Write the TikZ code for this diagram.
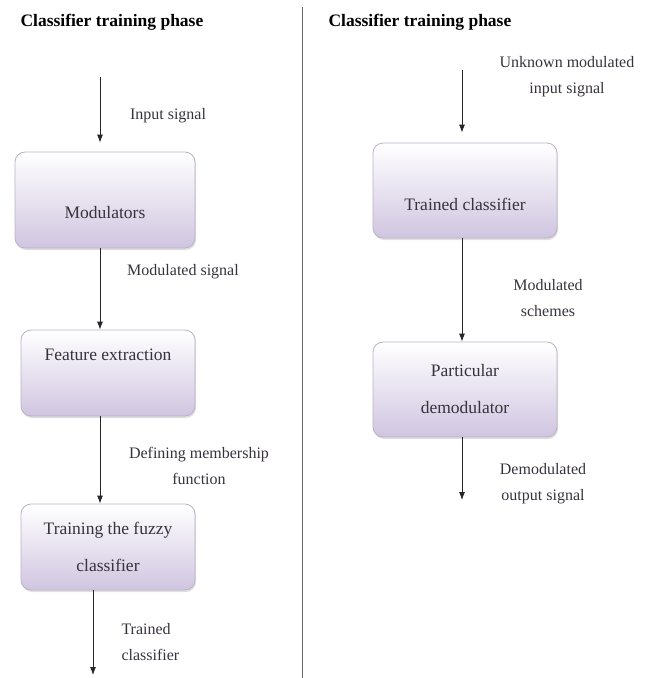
\documentclass[tikz,border=0pt]{standalone}
\usepackage{fontspec}
\setmainfont{Liberation Serif}
\usepackage{tikz}
\usepackage{xcolor}
\usetikzlibrary{positioning, arrows.meta, shadows}

\definecolor{boxlav}{RGB}{208,197,224}
\definecolor{boxedge}{RGB}{188,178,200}
\definecolor{inkgrey}{RGB}{55,50,60}

\begin{document}
\begin{tikzpicture}[
            x=1pt, y=-1pt,
            stage/.style={rectangle, rounded corners=10pt, draw=boxedge, line width=0.8pt,
                top color=white, bottom color=boxlav, text=inkgrey, inner sep=0pt,
                align=center, font=\fontsize{17.5}{21}\selectfont,
                drop shadow={opacity=0.25, shadow xshift=1pt, shadow yshift=-2pt}},
            sig/.style={text=inkgrey, align=center, font=\fontsize{16}{26}\selectfont},
            phase/.style={anchor=west, font=\bfseries\fontsize{17.5}{21}\selectfont},
            flow/.style={draw=black!85, line width=0.8pt, -{Latex[length=8pt,width=6pt]}},
        ]
            \useasboundingbox (0,0) rectangle (649,678);
            % headings and divider
            \node[phase] (titleL) at (17,22) {Classifier training phase};
            \node[phase] (titleR) at (325,22) {Classifier training phase};
            \coordinate (divtop) at (302,7);
            \coordinate (divbot) at (302,678);
            \draw[black!60, line width=0.8pt] (divtop) -- (divbot);

            % left column
            \node[stage, minimum width=180pt, minimum height=96pt, text height=40pt, text depth=4pt]
                (mod) at (105,200) {Modulators};
            \node[stage, minimum width=174pt, minimum height=86pt, text height=11pt, text depth=37pt]
                (feat) at (108,373) {Feature extraction};
            \node[stage, minimum width=174pt, minimum height=86pt]
                (fuzzy) at (108,547) {Training the fuzzy\\[16pt]classifier};
            \coordinate (inL) at (100,77);
            \coordinate (outL) at (93,675);
            \draw[flow, shorten >=9pt] (inL) -- (inL |- mod.north);
            \draw[flow] (mod.south -| inL) -- (feat.north -| inL);
            \draw[flow] (feat.south -| inL) -- (fuzzy.north -| inL);
            \draw[flow] (fuzzy.south -| outL) -- (outL);
            \node[sig] (insig) at (168,116) {Input signal};
            \node[sig] (modsig) at (183,272) {Modulated signal};
            \node[sig] (member) at (199,465.5) {Defining membership\\function};
            \node[sig, align=left, anchor=west] (trainedsig) at (118,642.5) {Trained\\classifier};

            % right column
            \node[stage, minimum width=184pt, minimum height=95pt, text height=44pt, text depth=4pt]
                (trained) at (465,190.5) {Trained classifier};
            \node[stage, minimum width=184pt, minimum height=95pt]
                (demod) at (465,389.5) {Particular\\[16pt]demodulator};
            \coordinate (inR) at (462,70);
            \coordinate (outR) at (462,500);
            \draw[flow, shorten >=10pt] (inR) -- (inR |- trained.north);
            \draw[flow] (trained.south -| inR) -- (demod.north -| inR);
            \draw[flow] (demod.south -| outR) -- (outR);
            \node[sig] (unknown) at (567,77) {Unknown modulated\\input signal};
            \node[sig] (schemes) at (548,298) {Modulated\\schemes};
            \node[sig] (outsig) at (543,483.5) {Demodulated\\output signal};
        \end{tikzpicture}
\end{document}
